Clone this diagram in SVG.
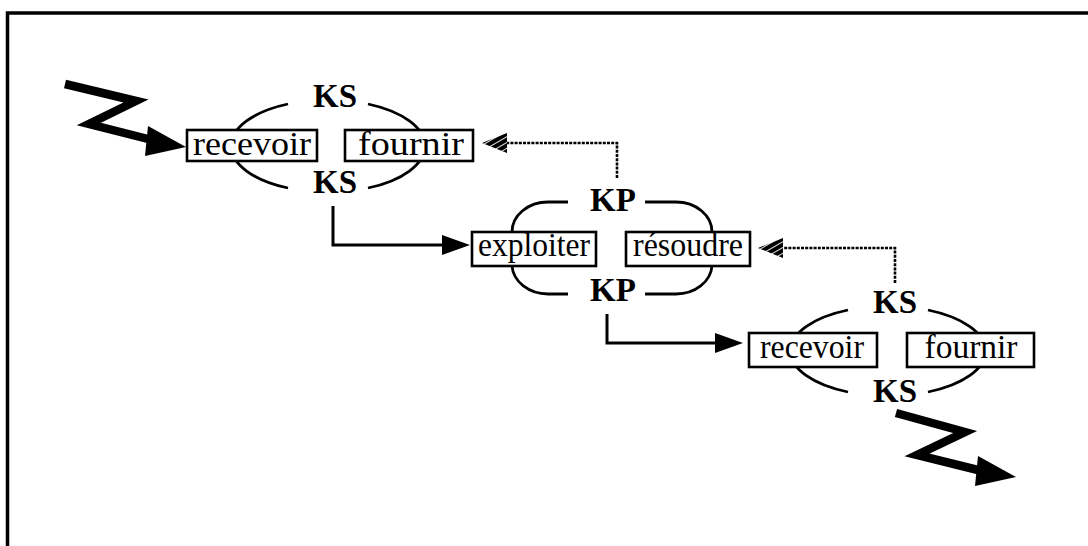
<svg xmlns="http://www.w3.org/2000/svg" width="1088" height="546" viewBox="0 0 1088 546">
  <defs>
    <style>
      .frame { fill: none; stroke: #000; stroke-width: 3.5; }
      .box { fill: #fff; stroke: #000; stroke-width: 2.6; }
      .arc { fill: none; stroke: #000; stroke-width: 2.8; }
      .lbl { font-family: "Liberation Serif", "Times New Roman", serif; font-size: 33px; fill: #000; text-anchor: middle; }
      .ks { font-family: "Liberation Serif", "Times New Roman", serif; font-size: 33px; font-weight: bold; fill: #000; text-anchor: middle; }
      .solid { fill: none; stroke: #000; stroke-width: 3; }
      .dashed { fill: none; stroke: #000; stroke-width: 2.6; stroke-dasharray: 3 1.2; }
      .bolt { fill: none; stroke: #000; stroke-width: 8.5; stroke-linejoin: miter; stroke-miterlimit: 10; }
    </style>
    <pattern id="hatch" patternUnits="userSpaceOnUse" width="5" height="5" patternTransform="rotate(60)">
      <rect width="5" height="5" fill="#000"/>
      <rect x="0" y="0" width="0.9" height="5" fill="#fff"/>
    </pattern>
    <marker id="solidHead" markerUnits="userSpaceOnUse" viewBox="0 -11 30 22" markerWidth="30" markerHeight="22" refX="0" refY="0" orient="auto">
      <path d="M0,-10 L28,0 L0,10 Z" fill="#000"/>
    </marker>
    <marker id="hatchHead" markerUnits="userSpaceOnUse" viewBox="0 -12 28 24" markerWidth="28" markerHeight="24" refX="0" refY="0" orient="auto">
      <path d="M0,-10 L25,0 L0,10 Z" fill="url(#hatch)"/>
    </marker>
    <path id="boltHead" d="M0,0 L-38,-21 L-41,9 Z" fill="#000"/>
  </defs>

  <rect width="1088" height="546" fill="#fff"/>
  <path class="frame" d="M7.5,546 V13 H1088"/>

  <g id="connectors">
    <path class="bolt" d="M65,84 L136,101 L89,124 L152,140"/>
    <use href="#boltHead" transform="translate(186,147)"/>
    <path class="solid" d="M333,206 V245 H442" marker-end="url(#solidHead)"/>
    <path class="dashed" d="M617,178 V143 H507" marker-end="url(#hatchHead)"/>
    <path class="solid" d="M607,314 V343 H715" marker-end="url(#solidHead)"/>
    <path class="dashed" d="M895,283 V248 H783" marker-end="url(#hatchHead)"/>
    <path class="bolt" d="M896,413 L965,432 L917,455 L982,471"/>
    <use href="#boltHead" transform="translate(1016,477)"/>
  </g>

  <g id="node-ks1">
    <path class="arc" d="M288,104 A96,46 0 0 0 288,188"/>
    <path class="arc" d="M368,104 A96,46 0 0 1 368,188"/>
    <text class="ks" x="335" y="107">KS</text>
    <text class="ks" x="335" y="193">KS</text>
    <g id="ks1-recevoir">
      <rect class="box" x="187" y="130" width="130" height="31"/>
      <text class="lbl" x="252" y="155" textLength="118" lengthAdjust="spacingAndGlyphs">recevoir</text>
    </g>
    <g id="ks1-fournir">
      <rect class="box" x="345" y="130" width="128" height="31"/>
      <text class="lbl" x="411" y="155" textLength="106" lengthAdjust="spacingAndGlyphs">fournir</text>
    </g>
  </g>

  <g id="node-kp">
    <path class="arc" d="M568,202 H548 A36,30 0 0 0 512,232 V266 A36,30 0 0 0 548,294 H568"/>
    <path class="arc" d="M645,202 H676 A36,30 0 0 1 712,232 V266 A36,30 0 0 1 676,294 H645"/>
    <text class="ks" x="613" y="211">KP</text>
    <text class="ks" x="613" y="301">KP</text>
    <g id="kp-exploiter">
      <rect class="box" x="472" y="232" width="124" height="34"/>
      <text class="lbl" x="534" y="256" textLength="112" lengthAdjust="spacingAndGlyphs">exploiter</text>
    </g>
    <g id="kp-resoudre">
      <rect class="box" x="626" y="232" width="124" height="34"/>
      <text class="lbl" x="688" y="256" textLength="110" lengthAdjust="spacingAndGlyphs">résoudre</text>
    </g>
  </g>

  <g id="node-ks2">
    <path class="arc" d="M848,310 A98,45 0 0 0 848,392"/>
    <path class="arc" d="M928,310 A98,45 0 0 1 928,392"/>
    <text class="ks" x="895" y="313">KS</text>
    <text class="ks" x="895" y="402">KS</text>
    <g id="ks2-recevoir">
      <rect class="box" x="749" y="333" width="128" height="34"/>
      <text class="lbl" x="812" y="358" textLength="104" lengthAdjust="spacingAndGlyphs">recevoir</text>
    </g>
    <g id="ks2-fournir">
      <rect class="box" x="907" y="333" width="127" height="34"/>
      <text class="lbl" x="971" y="358" textLength="93" lengthAdjust="spacingAndGlyphs">fournir</text>
    </g>
  </g>
</svg>
